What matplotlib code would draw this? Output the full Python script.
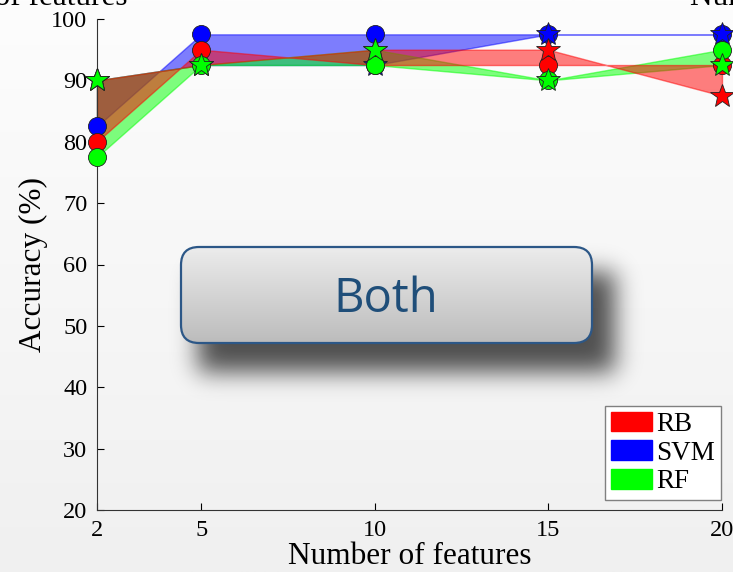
import numpy as np
import matplotlib
matplotlib.use("Agg")
import matplotlib.pyplot as plt
from matplotlib.patches import Patch, FancyBboxPatch

plt.rcParams['font.family'] = 'serif'
plt.rcParams['font.serif'] = ['Liberation Serif', 'DejaVu Serif']

# data
features = [2, 5, 10, 15, 20]
rb_circle = [80, 95, 92.5, 92.5, 92.5]
rb_star = [90, 92.5, 95, 95, 87.5]
svm_circle = [82.5, 97.5, 97.5, 97.5, 97.5]
svm_star = [90, 92.5, 92.5, 97.5, 97.5]
rf_circle = [77.5, 92.5, 92.5, 90, 95]
rf_star = [90, 92.5, 95, 90, 92.5]

names = ['RB', 'SVM', 'RF']
colors = {'RB': '#ff0000', 'SVM': '#0000ff', 'RF': '#00ff00'}
series = {'RB': (rb_circle, rb_star), 'SVM': (svm_circle, svm_star), 'RF': (rf_circle, rf_star)}

W, H = 733, 572
fig = plt.figure(figsize=(W / 100, H / 100), dpi=100)

# soft background gradient
ax_bg = fig.add_axes([0, 0, 1, 1], zorder=-1)
grad = np.linspace(253, 240, 200)[:, None] * np.ones((1, 2)) / 255
ax_bg.imshow(np.dstack([grad, grad, grad]), aspect='auto', extent=(0, 1, 0, 1))
ax_bg.axis('off')

ax = fig.add_axes([97 / W, 1 - 510 / H, 625 / W, 491 / H])
ax.patch.set_alpha(0)

# filled bands, drawn blue, green, red
for name in ['SVM', 'RF', 'RB']:
    c, s = series[name]
    ax.fill_between(features, c, s, facecolor=colors[name], edgecolor=colors[name],
                    alpha=0.5, linewidth=1, zorder=2, clip_on=False)

z = 3
for name in ['SVM', 'RB', 'RF']:
    c, s = series[name]
    ax.plot(features, c, 'o', ms=13, mfc=colors[name], mec='#222222', mew=0.6,
            zorder=z, clip_on=False)
    ax.plot(features, s, '*', ms=18, mfc=colors[name], mec='#222222', mew=0.6,
            zorder=z + 1, clip_on=False)
    z += 2

ax.set_xlim(2, 20)
ax.set_ylim(20, 100)
ax.set_xticks(features)
ax.set_yticks(range(20, 101, 10))
ax.tick_params(direction='in', length=5, labelsize=17.5, pad=7, width=0.8)
for sp in ['top', 'right']:
    ax.spines[sp].set_visible(False)
for sp in ['left', 'bottom']:
    ax.spines[sp].set_color('#333333')
    ax.spines[sp].set_linewidth(0.8)
ax.set_xlabel('Number of features', fontsize=22.5, labelpad=1)
ax.set_ylabel('Accuracy (%)', fontsize=22.5, labelpad=2)

handles = [Patch(facecolor=colors[n], edgecolor=colors[n], label=n) for n in names]
leg = ax.legend(handles=handles, loc='lower right', bbox_to_anchor=(0.999, 0.02),
                borderaxespad=0, fontsize=19.5, fancybox=False, framealpha=1,
                handlelength=1.55, handleheight=0.75, labelspacing=0.12,
                handletextpad=0.15, borderpad=0.22)
leg.get_frame().set_edgecolor('#808080')
leg.get_frame().set_linewidth(1)

# neighbouring panel labels cut by the frame
fig.text(128 / W, 1 - 5 / H, 'Number of features', ha='right', va='baseline', fontsize=22.5)
fig.text(690 / W, 1 - 5 / H, 'Number of features', ha='left', va='baseline', fontsize=22.5)

# "Both" label box with blurred shadow
ax_ov = fig.add_axes([0, 0, 1, 1], zorder=5)
ax_ov.set_xlim(0, W)
ax_ov.set_ylim(H, 0)
ax_ov.axis('off')

sh = np.zeros((H, W))
sh[272:372, 198:615] = 1.0
sig = 12
r = int(3 * sig)
k = np.exp(-0.5 * (np.arange(-r, r + 1) / sig) ** 2)
k /= k.sum()
sh = np.apply_along_axis(lambda m: np.convolve(m, k, mode='same'), 0, sh)
sh = np.apply_along_axis(lambda m: np.convolve(m, k, mode='same'), 1, sh)
rgba = np.zeros((H, W, 4))
rgba[..., 3] = sh * 0.68
ax_ov.imshow(rgba, extent=(0, W, H, 0), interpolation='nearest', aspect='auto')

box = FancyBboxPatch((181, 247), 411, 96, boxstyle='round,pad=0,rounding_size=18',
                     facecolor='none', edgecolor='#2c5787', linewidth=1.6, zorder=3)
ax_ov.add_patch(box)
g = np.linspace(236, 188, 100)[:, None] * np.ones((1, 2)) / 255
im = ax_ov.imshow(np.dstack([g, g, g]), extent=(181, 592, 343, 247), aspect='auto', zorder=2)
im.set_clip_path(box)
ax_ov.set_xlim(0, W)
ax_ov.set_ylim(H, 0)
ax_ov.text(386, 299, 'Both', ha='center', va='center', fontsize=34, color='#1f4e79',
           family=['Open Sans', 'DejaVu Sans'], zorder=4)

fig.savefig('out.png', dpi=100)
